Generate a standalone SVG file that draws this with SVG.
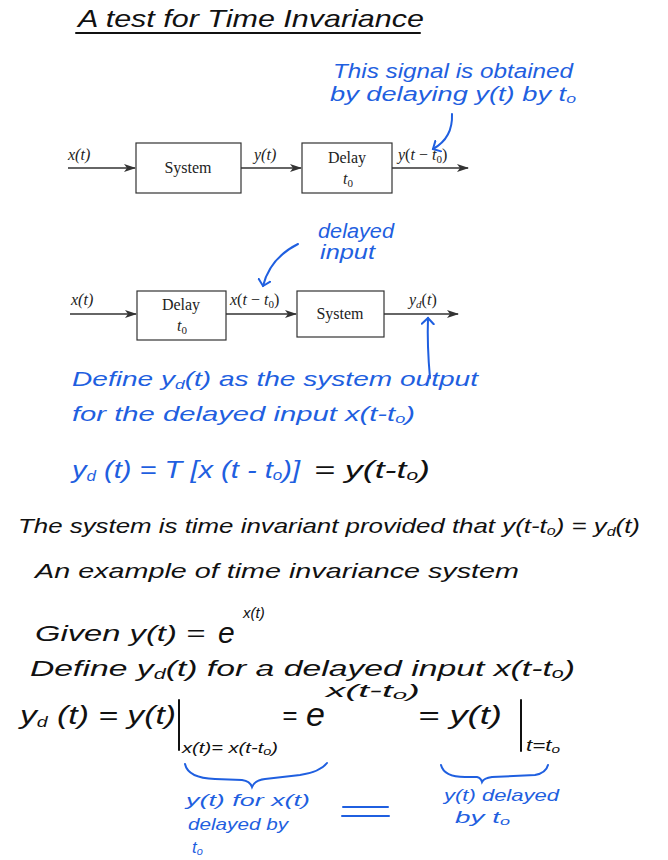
<svg xmlns="http://www.w3.org/2000/svg" width="668" height="860" viewBox="0 0 668 860">
<defs>
<style>
.hw{font-family:"Liberation Sans","DejaVu Sans",sans-serif;font-style:italic;fill:#111;}
.bl{font-family:"Liberation Sans","DejaVu Sans",sans-serif;font-style:italic;fill:#1f5fe0;}
.sr{font-family:"Liberation Serif","DejaVu Serif",serif;font-size:16px;fill:#222;}
.it{font-style:italic;}
.box{fill:#fff;stroke:#333;stroke-width:1.2;}
.ln{stroke:#333;stroke-width:1.6;fill:none;}
.bcurve{stroke:#1f5fe0;stroke-width:2;fill:none;stroke-linecap:round;}
.kline{stroke:#111;stroke-width:2;fill:none;stroke-linecap:round;}
</style>
<marker id="ah" markerWidth="12" markerHeight="8" refX="11" refY="4" orient="auto" markerUnits="userSpaceOnUse">
<path d="M0,0 L12,4 L0,8 L3,4 Z" fill="#333"/>
</marker>
<marker id="bh" markerWidth="14" markerHeight="14" refX="7" refY="7" orient="auto" markerUnits="userSpaceOnUse">
<path d="M1,1 L7,7 L1,13" fill="none" stroke="#1f5fe0" stroke-width="2" stroke-linecap="round"/>
</marker>
</defs>
<rect width="668" height="860" fill="#fff"/>

<g id="title">
<text class="hw" x="78" y="27" font-size="24" textLength="346" lengthAdjust="spacingAndGlyphs">A  test  for  Time  Invariance</text>
<line class="kline" x1="76" y1="33" x2="420" y2="33" stroke-width="1.6"/>
</g>

<g id="note1">
<text class="bl" x="333" y="78" font-size="20" textLength="240" lengthAdjust="spacingAndGlyphs">This signal is obtained</text>
<text class="bl" x="330" y="101" font-size="20" textLength="246" lengthAdjust="spacingAndGlyphs">by delaying y(t) by t<tspan font-size="13" dy="2">o</tspan></text>
</g>

<g id="connectors">
<line class="ln" x1="68" y1="168" x2="135" y2="168" marker-end="url(#ah)"/>
<line class="ln" x1="241" y1="168" x2="301" y2="168" marker-end="url(#ah)"/>
<line class="ln" x1="392" y1="168" x2="468" y2="168" marker-end="url(#ah)"/>
<line class="ln" x1="70" y1="314" x2="136" y2="314" marker-end="url(#ah)"/>
<line class="ln" x1="226" y1="314" x2="296" y2="314" marker-end="url(#ah)"/>
<line class="ln" x1="384" y1="314" x2="458" y2="314" marker-end="url(#ah)"/>
<path class="bcurve" d="M452,114 Q453,138 433,149" marker-end="url(#bh)"/>
<path class="bcurve" d="M298,244 Q270,258 263,286" marker-end="url(#bh)"/>
<path class="bcurve" d="M430,378 Q427,345 428,318" marker-end="url(#bh)"/>
</g>

<g id="labels1">
<text class="sr it" x="68" y="160">x(t)</text>
<text class="sr it" x="254" y="160">y(t)</text>
<text class="sr" x="398" y="160"><tspan class="it">y</tspan>(<tspan class="it">t</tspan> − <tspan class="it">t</tspan><tspan font-size="11" dy="3">0</tspan><tspan dy="-3">)</tspan></text>
<text class="sr it" x="71" y="305">x(t)</text>
<text class="sr" x="230" y="305"><tspan class="it">x</tspan>(<tspan class="it">t</tspan> − <tspan class="it">t</tspan><tspan font-size="11" dy="3">0</tspan><tspan dy="-3">)</tspan></text>
<text class="sr" x="409" y="305"><tspan class="it">y</tspan><tspan class="it" font-size="11" dy="3">d</tspan><tspan dy="-3">(</tspan><tspan class="it">t</tspan>)</text>
</g>

<g id="sys1">
<rect class="box" x="136" y="143" width="105" height="50"/>
<text class="sr" x="188" y="173" text-anchor="middle">System</text>
</g>
<g id="delay1">
<rect class="box" x="302" y="143" width="90" height="50"/>
<text class="sr" x="347" y="163" text-anchor="middle">Delay</text>
<text class="sr it" x="343" y="184">t<tspan font-size="11" dy="3" font-style="normal">0</tspan></text>
</g>
<g id="delay2">
<rect class="box" x="137" y="291" width="89" height="49"/>
<text class="sr" x="181" y="310" text-anchor="middle">Delay</text>
<text class="sr it" x="177" y="331">t<tspan font-size="11" dy="3" font-style="normal">0</tspan></text>
</g>
<g id="sys2">
<rect class="box" x="297" y="291" width="87" height="46"/>
<text class="sr" x="340" y="319" text-anchor="middle">System</text>
</g>

<g id="note2">
<text class="bl" x="318" y="238" font-size="20" textLength="76" lengthAdjust="spacingAndGlyphs">delayed</text>
<text class="bl" x="320" y="259" font-size="20" textLength="55" lengthAdjust="spacingAndGlyphs">input</text>
</g>

<g id="define">
<text class="bl" x="72" y="386" font-size="21" textLength="406" lengthAdjust="spacingAndGlyphs">Define  y<tspan font-size="13" dy="3">d</tspan><tspan dy="-3">(t)  as  the  system  output</tspan></text>
<text class="bl" x="72" y="421" font-size="21" textLength="343" lengthAdjust="spacingAndGlyphs">for the delayed input  x(t-t<tspan font-size="13" dy="2">o</tspan><tspan dy="-2">)</tspan></text>
<text class="bl" x="72" y="478" font-size="24" textLength="228" lengthAdjust="spacingAndGlyphs">y<tspan font-size="14" dy="3">d</tspan><tspan dy="-3"> (t) = T [x (t - t</tspan><tspan font-size="14" dy="2">o</tspan><tspan dy="-2">)]</tspan></text>
<text class="hw" x="314" y="478" font-size="24" textLength="116" lengthAdjust="spacingAndGlyphs">= y(t-t<tspan font-size="14" dy="2">o</tspan><tspan dy="-2">)</tspan></text>
</g>

<g id="statement">
<text class="hw" x="18" y="533" font-size="21" textLength="622" lengthAdjust="spacingAndGlyphs">The system is  time  invariant provided that y(t-t<tspan font-size="13" dy="2">o</tspan><tspan dy="-2">) = y</tspan><tspan font-size="13" dy="3">d</tspan><tspan dy="-3">(t)</tspan></text>
<text class="hw" x="35" y="578" font-size="21" textLength="484" lengthAdjust="spacingAndGlyphs">An example  of  time  invariance  system</text>
</g>

<g id="example">
<text class="hw" x="35" y="641" font-size="22" textLength="170" lengthAdjust="spacingAndGlyphs">Given  y(t) =</text>
<text class="hw" x="218" y="643" font-size="30">e</text>
<text class="hw" x="243" y="618" font-size="15">x(t)</text>
<text class="hw" x="30" y="676" font-size="22" textLength="545" lengthAdjust="spacingAndGlyphs">Define  y<tspan font-size="14" dy="3">d</tspan><tspan dy="-3">(t)  for  a  delayed  input  x(t-t</tspan><tspan font-size="14" dy="2">o</tspan><tspan dy="-2">)</tspan></text>
<text class="hw" x="20" y="724" font-size="26" textLength="156" lengthAdjust="spacingAndGlyphs">y<tspan font-size="15" dy="3">d</tspan><tspan dy="-3"> (t) = y(t)</tspan></text>
<line class="kline" x1="179" y1="700" x2="179" y2="750"/>
<text class="hw" x="182" y="753" font-size="14" textLength="96" lengthAdjust="spacingAndGlyphs">x(t)= x(t-t<tspan font-size="10" dy="2">o</tspan><tspan dy="-2">)</tspan></text>
<text class="hw" x="282" y="724" font-size="26">=</text>
<text class="hw" x="306" y="726" font-size="34">e</text>
<text class="hw" x="326" y="697" font-size="18" textLength="94" lengthAdjust="spacingAndGlyphs">x(t-t<tspan font-size="12" dy="2">o</tspan><tspan dy="-2">)</tspan></text>
<text class="hw" x="418" y="724" font-size="26" textLength="84" lengthAdjust="spacingAndGlyphs">= y(t)</text>
<line class="kline" x1="521" y1="700" x2="521" y2="751"/>
<text class="hw" x="526" y="751" font-size="16" textLength="34" lengthAdjust="spacingAndGlyphs">t=t<tspan font-size="11" dy="2">o</tspan></text>
</g>

<g id="brace-left">
<path class="bcurve" d="M185,764 Q188,778 215,779 L242,780 Q250,781 252,787 Q255,780 265,779 L300,775 Q320,772 327,763"/>
<text class="bl" x="186" y="806" font-size="17" textLength="124" lengthAdjust="spacingAndGlyphs">y(t) for x(t)</text>
<text class="bl" x="188" y="830" font-size="17" textLength="100" lengthAdjust="spacingAndGlyphs">delayed by</text>
<text class="bl" x="192" y="853" font-size="17">t<tspan font-size="11" dy="2">o</tspan></text>
</g>

<g id="equal">
<line class="bcurve" x1="343" y1="807" x2="388" y2="807"/>
<line class="bcurve" x1="342" y1="816" x2="389" y2="816"/>
</g>

<g id="brace-right">
<path class="bcurve" d="M441,765 Q444,777 465,777 L477,777 Q481,778 482,782 Q484,778 492,777 L535,775 Q546,773 548,765"/>
<text class="bl" x="444" y="801" font-size="17" textLength="115" lengthAdjust="spacingAndGlyphs">y(t)  delayed</text>
<text class="bl" x="455" y="823" font-size="17" textLength="55" lengthAdjust="spacingAndGlyphs">by  t<tspan font-size="11" dy="2">o</tspan></text>
</g>
</svg>
